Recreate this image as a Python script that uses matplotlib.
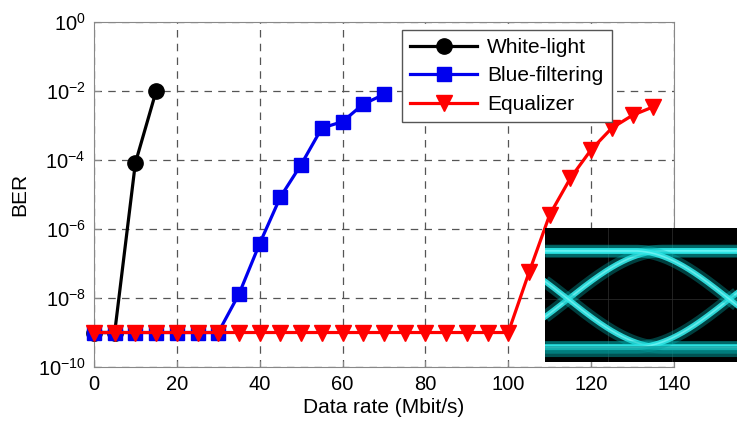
import numpy as np
import matplotlib
matplotlib.use("Agg")
import matplotlib.pyplot as plt

plt.rcParams['font.family'] = ['Liberation Sans', 'DejaVu Sans']
plt.rcParams['mathtext.fontset'] = 'custom'
plt.rcParams['mathtext.rm'] = 'Liberation Sans'
plt.rcParams['mathtext.it'] = 'Liberation Sans'

# data
white_x = [0, 5, 10, 15]
white_ber = [1e-9, 1e-9, 8.3e-5, 1e-2]

blue_x = [0, 5, 10, 15, 20, 25, 30, 35, 40, 45, 50, 55, 60, 65, 70]
blue_ber = [1e-9, 1e-9, 1e-9, 1e-9, 1e-9, 1e-9, 1e-9, 1.3e-8, 3.8e-7,
            8.5e-6, 7.4e-5, 8.5e-4, 1.3e-3, 4.2e-3, 8e-3]

eq_x = list(range(0, 140, 5))
eq_ber = [1e-9] * 21 + [5.5e-8, 2.6e-6, 3e-5, 2e-4, 8.5e-4, 2e-3, 3.5e-3]

xticks = [0, 20, 40, 60, 80, 100, 120, 140]
yticks = [1e-10, 1e-8, 1e-6, 1e-4, 1e-2, 1e0]

fig = plt.figure(figsize=(7.37, 4.26), dpi=100)
ax = fig.add_axes([0.1275, 0.1385, 0.787, 0.8095])

ax.plot(white_x, white_ber, '-o', color='black', lw=2.3, ms=11, label='White-light', clip_on=False, zorder=3)
ax.plot(blue_x, blue_ber, '-s', color='#0000ee', lw=2.3, ms=10, label='Blue-filtering', clip_on=False, zorder=4)
ax.plot(eq_x, eq_ber, '-v', color='#ff0000', lw=2.3, ms=11, label='Equalizer', clip_on=False, zorder=5)

ax.set_yscale('log')
ax.set_xlim(0, 140)
ax.set_ylim(1e-10, 1)
ax.set_xticks(xticks)
ax.set_yticks(yticks)
ax.set_yticklabels([r'$10^{%d}$' % int(np.log10(v)) for v in yticks])
ax.minorticks_off()
ax.tick_params(direction='in', length=4, color='#888888', labelsize=14.5, pad=6)
for s in ax.spines.values():
    s.set_color('#888888')
ax.grid(True, color='#555555', linestyle=(0, (6, 5)), lw=0.9)
ax.set_xlabel('Data rate (Mbit/s)', fontsize=15, labelpad=3)
ax.set_ylabel('BER', fontsize=15, labelpad=6)

leg = ax.legend(loc='upper left', bbox_to_anchor=(0.531, 0.978), fontsize=15,
                fancybox=False, framealpha=1, edgecolor='#555555', borderaxespad=0,
                markerscale=1.0, handlelength=3.2, borderpad=0.4, labelspacing=0.45,
                handletextpad=0.5)
leg.get_frame().set_linewidth(1.0)

# eye diagram inset
ins = fig.add_axes([0.7395, 0.150, 0.2605, 0.3146], zorder=10)
ins.set_facecolor('black')
ins.set_xlim(0, 1)
ins.set_ylim(0, 1)
ins.set_xticks([])
ins.set_yticks([])
for s in ins.spines.values():
    s.set_visible(False)
for gx in [0.33, 0.66]:
    ins.axvline(gx, color='#303030', lw=0.5)
ins.axhline(0.47, color='#303030', lw=0.5)

u = np.linspace(0, 1, 400)
mid, amp, w = 0.47, 0.36, 0.5
traces = [np.full_like(u, mid + amp), np.full_like(u, mid - amp)]
for c in [0.12, 0.96]:
    t = np.sin(np.pi / 2 * np.clip((u - c) / w, -1, 1))
    traces.append(mid + amp * t)
    traces.append(mid - amp * t)
for tr in traces:
    ins.plot(u, tr, color='#00b4b4', lw=9, alpha=0.35, solid_capstyle='butt')
    ins.plot(u, tr, color='#30e8e8', lw=4.0, alpha=0.9)
    ins.plot(u, tr, color='#a0ffff', lw=1.2, alpha=0.5)
ins.plot(u, np.full_like(u, 0.08), color='#008c8c', lw=8, alpha=0.6)

fig.savefig('out.png', dpi=100)
